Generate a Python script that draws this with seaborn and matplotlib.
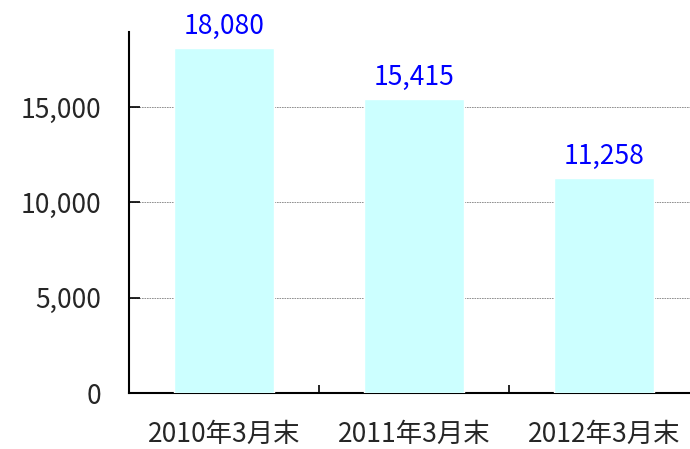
import matplotlib
matplotlib.use("Agg")
import matplotlib.pyplot as plt
import seaborn as sns
import pandas as pd

periods = ["2010年3月末", "2011年3月末", "2012年3月末"]
values = [18080, 15415, 11258]
yticks = [0, 5000, 10000, 15000]

sns.set_style("white")
plt.rcParams['font.family'] = ['Noto Sans CJK JP', 'DejaVu Sans']

df = pd.DataFrame({"period": periods, "value": values})

fig = plt.figure(figsize=(6.9, 4.49), dpi=100)
ax = fig.add_axes([0.187, 0.1247, 0.826, 0.804])

sns.barplot(data=df, x="period", y="value", color="#CCFFFF", saturation=1,
            width=0.525, ax=ax, zorder=3)

ax.set_xlim(-0.5, 2.5)
ax.set_ylim(0, 18930)
ax.set_yticks(yticks)
ax.set_yticklabels(["{:,}".format(v) for v in yticks], fontsize=19)
ax.yaxis.grid(True, color="#808080", linestyle=(0, (2, 1)), linewidth=0.6, zorder=0)
ax.set_axisbelow(True)

ax.set_xticks([-0.5, 0.5, 1.5, 2.5], minor=True)
ax.tick_params(axis="x", which="major", length=0, pad=20, labelsize=19)
ax.tick_params(axis="x", which="minor", bottom=True, direction="in", length=6,
               width=1.2, color="black")
ax.tick_params(axis="y", left=True, direction="in", length=8, width=1.2,
               color="black", pad=20)

ax.set_xlabel("")
ax.set_ylabel("")
for s in ["top", "right"]:
    ax.spines[s].set_visible(False)
for s in ["left", "bottom"]:
    ax.spines[s].set_color("black")
    ax.spines[s].set_linewidth(1.5)

for i, v in enumerate(values):
    ax.annotate("{:,}".format(v), (i, v), xytext=(0, 6), textcoords="offset points",
                ha="center", va="bottom", color="#0000FF", fontsize=19)

fig.savefig("out.png", dpi=100)
